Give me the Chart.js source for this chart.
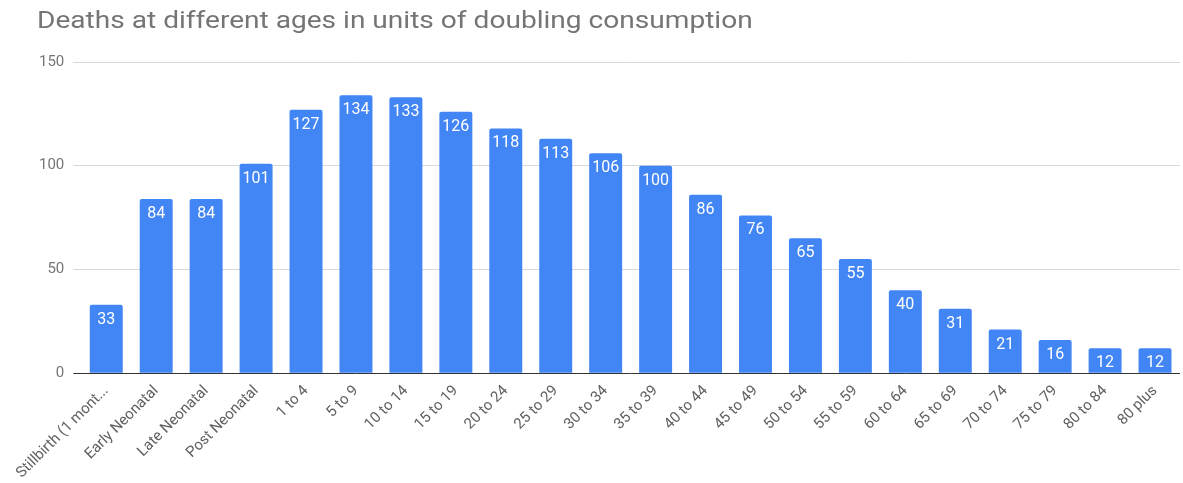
<!DOCTYPE html>
<html><head><meta charset="utf-8">
<script src="https://cdn.jsdelivr.net/npm/chart.js@4"></script>
<style>html,body{margin:0;padding:0;background:#fff}#wrap{width:1183px;height:483px}</style>
</head><body><div id="wrap"><canvas id="c" width="1183" height="483"></canvas></div>
<script>
const titleText = "Deaths at different ages in units of doubling consumption";
const categories = ["Stillbirth (1 mont...","Early Neonatal","Late Neonatal","Post Neonatal","1 to 4","5 to 9","10 to 14","15 to 19","20 to 24","25 to 29","30 to 34","35 to 39","40 to 44","45 to 49","50 to 54","55 to 59","60 to 64","65 to 69","70 to 74","75 to 79","80 to 84","80 plus"];
const values = [33,84,84,101,127,134,133,126,118,113,106,100,86,76,65,55,40,31,21,16,12,12];
const yTicks = [0,50,100,150];

const FONT = "Roboto, 'Open Sans', sans-serif";
const labelPlugin = {
  id:'labels',
  afterDatasetsDraw(chart){
    const ctx = chart.ctx;
    const meta = chart.getDatasetMeta(0);
    ctx.save();
    ctx.fillStyle = '#ffffff';
    ctx.font = '16px ' + FONT;
    ctx.textAlign = 'center';
    ctx.textBaseline = 'middle';
    meta.data.forEach((bar,i)=>{
      ctx.fillText(String(values[i]), bar.x, bar.y + 15);
    });
    ctx.restore();
  },
  afterDraw(chart){
    const ctx = chart.ctx;
    ctx.save();
    ctx.fillStyle = '#757575';
    ctx.font = '24px ' + FONT;
    ctx.textAlign = 'left';
    ctx.textBaseline = 'alphabetic';
    ctx.translate(37, 28);
    ctx.scale(1.17, 1);
    ctx.fillText(titleText, 0, 0);
    ctx.restore();
  }
};

new Chart(document.getElementById('c'), {
  type:'bar',
  data:{labels:categories, datasets:[{data:values, backgroundColor:'#4285F4', borderRadius:{topLeft:2,topRight:2}, borderSkipped:'bottom', barPercentage:0.66, categoryPercentage:1}]},
  options:{
    responsive:false, animation:false,
    layout:{padding:{top:62,left:30,right:3,bottom:0}},
    plugins:{legend:{display:false}, title:{display:false}, tooltip:{enabled:false}},
    scales:{
      x:{
        grid:{display:false}, border:{display:false},
        ticks:{color:'#606060', font:{family:FONT,size:15}, minRotation:45, maxRotation:45, autoSkip:false, padding:1}
      },
      y:{
        min:0, max:150,
        afterBuildTicks(axis){ axis.ticks = yTicks.map(v=>({value:v})); },
        grid:{color:(c)=> c.tick && c.tick.value===0 ? '#333333' : '#d9d9d9', lineWidth:1, tickLength:8, drawTicks:true, tickColor:(c)=> c.tick && c.tick.value===0 ? '#333333' : '#d9d9d9'},
        border:{display:false},
        ticks:{color:'#757575', font:{family:FONT,size:15}, padding:9}
      }
    }
  },
  plugins:[labelPlugin]
});
</script></body></html>
